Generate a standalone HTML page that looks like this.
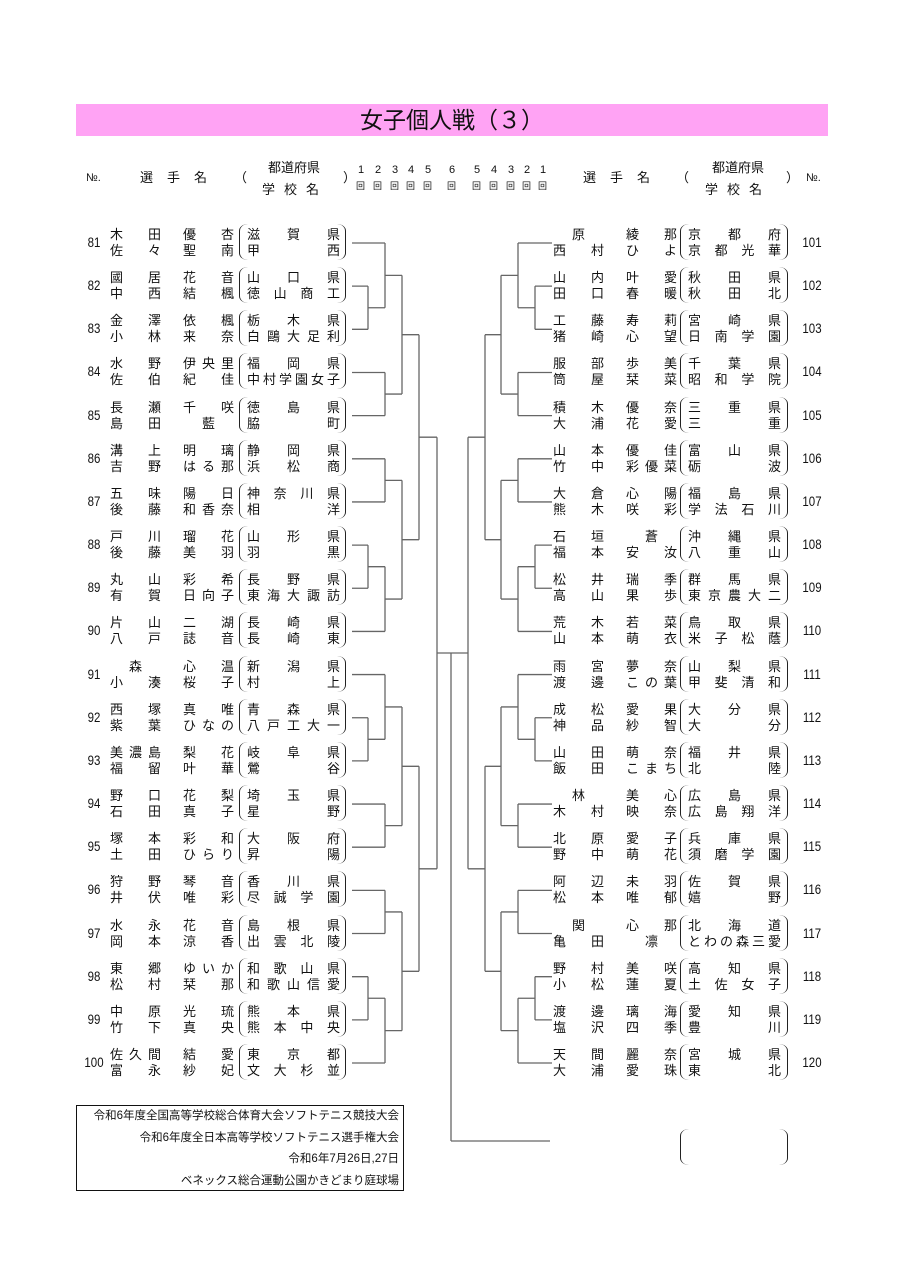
<!DOCTYPE html>
<html><head><meta charset="utf-8">
<style>
body{margin:0;background:#fff;}
#p{position:relative;width:905px;height:1280px;overflow:hidden;font-family:"Liberation Sans","Noto Sans CJK JP",sans-serif;color:#111;}
.t{position:absolute;left:76px;top:104px;width:752px;height:32px;background:#ffa3f4;text-align:center;font-size:23px;line-height:32px;}
.h{position:absolute;font-size:13px;line-height:16px;white-space:nowrap;}
.r{position:absolute;left:0;width:905px;height:40px;}
.r div{position:absolute;font-size:13px;line-height:16px;white-space:nowrap;}
.num{top:12px;width:28px;text-align:center;font-size:13.5px!important;transform:scaleX(.85);}
.nm{width:124px;height:16px;}
.nm span{position:absolute;top:0;width:51px;text-align:justify;text-align-last:justify;}
.nm span.g{left:73px;}
.nm span.s{left:0;}
.nm span.c{text-align:center;text-align-last:center;}
.sc{width:93px;text-align:justify;text-align-last:justify;}
.pl{top:1px;width:8px;height:36px;border-left:1.3px solid #222;border-radius:9px 0 0 9px/7px 0 0 7px;}
.pr{top:1px;width:8px;height:36px;border-right:1.3px solid #222;border-radius:0 9px 9px 0/0 7px 7px 0;}
.L .num{left:80px}.L .nm{left:110px}.L .sc{left:247px}.L .pl{left:239px}.L .pr{left:337px}
.R .num{left:798px}.R .nm{left:553px}.R .sc{left:688px}.R .pl{left:680px}.R .pr{left:779px}
.a{top:4px}.b{top:20px}
.f{position:absolute;left:76px;top:1105px;width:326px;height:84px;border:1.5px solid #111;font-size:11.5px;}
.f div{text-align:right;padding-right:4px;line-height:21.5px;}
</style></head><body><div id="p">
<div class="t">女子個人戦（３）</div>
<div class="h" style="left:86px;top:170px;font-size:11px">№.</div>
<div class="h" style="left:140px;top:170px;letter-spacing:14px">選手名</div>
<div class="h" style="left:234px;top:170px">（</div>
<div class="h" style="left:268px;top:160px">都道府県</div>
<div class="h" style="left:262px;top:182px;letter-spacing:9px">学校名</div>
<div class="h" style="left:343px;top:170px">）</div>
<div class="h" style="left:355px;top:162px;font-size:11px;letter-spacing:0">
<span style="position:absolute;left:3px">1</span><span style="position:absolute;left:20px">2</span><span style="position:absolute;left:37px">3</span><span style="position:absolute;left:53px">4</span><span style="position:absolute;left:70px">5</span><span style="position:absolute;left:94px">6</span><span style="position:absolute;left:119px">5</span><span style="position:absolute;left:136px">4</span><span style="position:absolute;left:153px">3</span><span style="position:absolute;left:169px">2</span><span style="position:absolute;left:185px">1</span></div>
<div class="h" style="left:355px;top:178px;font-size:9px">
<span style="position:absolute;left:1px">回</span><span style="position:absolute;left:18px">回</span><span style="position:absolute;left:35px">回</span><span style="position:absolute;left:51px">回</span><span style="position:absolute;left:68px">回</span><span style="position:absolute;left:92px">回</span><span style="position:absolute;left:117px">回</span><span style="position:absolute;left:134px">回</span><span style="position:absolute;left:151px">回</span><span style="position:absolute;left:167px">回</span><span style="position:absolute;left:183px">回</span></div>
<div class="h" style="left:583px;top:170px;letter-spacing:14px">選手名</div>
<div class="h" style="left:676px;top:170px">（</div>
<div class="h" style="left:712px;top:160px">都道府県</div>
<div class="h" style="left:705px;top:182px;letter-spacing:9px">学校名</div>
<div class="h" style="left:786px;top:170px">）</div>
<div class="h" style="left:806px;top:170px;font-size:11px">№.</div>

<div class="r L" style="top:223px"><div class="num">81</div><div class="nm a"><span class="s">木田</span><span class="g">優杏</span></div><div class="nm b"><span class="s">佐々</span><span class="g">聖南</span></div><div class="pl"></div><div class="pr"></div><div class="sc a">滋賀県</div><div class="sc b">甲西</div></div>
<div class="r L" style="top:266px"><div class="num">82</div><div class="nm a"><span class="s">國居</span><span class="g">花音</span></div><div class="nm b"><span class="s">中西</span><span class="g">結楓</span></div><div class="pl"></div><div class="pr"></div><div class="sc a">山口県</div><div class="sc b">徳山商工</div></div>
<div class="r L" style="top:309px"><div class="num">83</div><div class="nm a"><span class="s">金澤</span><span class="g">依楓</span></div><div class="nm b"><span class="s">小林</span><span class="g">来奈</span></div><div class="pl"></div><div class="pr"></div><div class="sc a">栃木県</div><div class="sc b">白鷗大足利</div></div>
<div class="r L" style="top:352px"><div class="num">84</div><div class="nm a"><span class="s">水野</span><span class="g">伊央里</span></div><div class="nm b"><span class="s">佐伯</span><span class="g">紀佳</span></div><div class="pl"></div><div class="pr"></div><div class="sc a">福岡県</div><div class="sc b">中村学園女子</div></div>
<div class="r L" style="top:396px"><div class="num">85</div><div class="nm a"><span class="s">長瀬</span><span class="g">千咲</span></div><div class="nm b"><span class="s">島田</span><span class="g c">藍</span></div><div class="pl"></div><div class="pr"></div><div class="sc a">徳島県</div><div class="sc b">脇町</div></div>
<div class="r L" style="top:439px"><div class="num">86</div><div class="nm a"><span class="s">溝上</span><span class="g">明璃</span></div><div class="nm b"><span class="s">吉野</span><span class="g">はる那</span></div><div class="pl"></div><div class="pr"></div><div class="sc a">静岡県</div><div class="sc b">浜松商</div></div>
<div class="r L" style="top:482px"><div class="num">87</div><div class="nm a"><span class="s">五味</span><span class="g">陽日</span></div><div class="nm b"><span class="s">後藤</span><span class="g">和香奈</span></div><div class="pl"></div><div class="pr"></div><div class="sc a">神奈川県</div><div class="sc b">相洋</div></div>
<div class="r L" style="top:525px"><div class="num">88</div><div class="nm a"><span class="s">戸川</span><span class="g">瑠花</span></div><div class="nm b"><span class="s">後藤</span><span class="g">美羽</span></div><div class="pl"></div><div class="pr"></div><div class="sc a">山形県</div><div class="sc b">羽黒</div></div>
<div class="r L" style="top:568px"><div class="num">89</div><div class="nm a"><span class="s">丸山</span><span class="g">彩希</span></div><div class="nm b"><span class="s">有賀</span><span class="g">日向子</span></div><div class="pl"></div><div class="pr"></div><div class="sc a">長野県</div><div class="sc b">東海大諏訪</div></div>
<div class="r L" style="top:611px"><div class="num">90</div><div class="nm a"><span class="s">片山</span><span class="g">二湖</span></div><div class="nm b"><span class="s">八戸</span><span class="g">誌音</span></div><div class="pl"></div><div class="pr"></div><div class="sc a">長崎県</div><div class="sc b">長崎東</div></div>
<div class="r L" style="top:655px"><div class="num">91</div><div class="nm a"><span class="s c">森</span><span class="g">心温</span></div><div class="nm b"><span class="s">小湊</span><span class="g">桜子</span></div><div class="pl"></div><div class="pr"></div><div class="sc a">新潟県</div><div class="sc b">村上</div></div>
<div class="r L" style="top:698px"><div class="num">92</div><div class="nm a"><span class="s">西塚</span><span class="g">真唯</span></div><div class="nm b"><span class="s">紫葉</span><span class="g">ひなの</span></div><div class="pl"></div><div class="pr"></div><div class="sc a">青森県</div><div class="sc b">八戸工大一</div></div>
<div class="r L" style="top:741px"><div class="num">93</div><div class="nm a"><span class="s">美濃島</span><span class="g">梨花</span></div><div class="nm b"><span class="s">福留</span><span class="g">叶華</span></div><div class="pl"></div><div class="pr"></div><div class="sc a">岐阜県</div><div class="sc b">鶯谷</div></div>
<div class="r L" style="top:784px"><div class="num">94</div><div class="nm a"><span class="s">野口</span><span class="g">花梨</span></div><div class="nm b"><span class="s">石田</span><span class="g">真子</span></div><div class="pl"></div><div class="pr"></div><div class="sc a">埼玉県</div><div class="sc b">星野</div></div>
<div class="r L" style="top:827px"><div class="num">95</div><div class="nm a"><span class="s">塚本</span><span class="g">彩和</span></div><div class="nm b"><span class="s">土田</span><span class="g">ひらり</span></div><div class="pl"></div><div class="pr"></div><div class="sc a">大阪府</div><div class="sc b">昇陽</div></div>
<div class="r L" style="top:870px"><div class="num">96</div><div class="nm a"><span class="s">狩野</span><span class="g">琴音</span></div><div class="nm b"><span class="s">井伏</span><span class="g">唯彩</span></div><div class="pl"></div><div class="pr"></div><div class="sc a">香川県</div><div class="sc b">尽誠学園</div></div>
<div class="r L" style="top:914px"><div class="num">97</div><div class="nm a"><span class="s">水永</span><span class="g">花音</span></div><div class="nm b"><span class="s">岡本</span><span class="g">涼香</span></div><div class="pl"></div><div class="pr"></div><div class="sc a">島根県</div><div class="sc b">出雲北陵</div></div>
<div class="r L" style="top:957px"><div class="num">98</div><div class="nm a"><span class="s">東郷</span><span class="g">ゆいか</span></div><div class="nm b"><span class="s">松村</span><span class="g">栞那</span></div><div class="pl"></div><div class="pr"></div><div class="sc a">和歌山県</div><div class="sc b">和歌山信愛</div></div>
<div class="r L" style="top:1000px"><div class="num">99</div><div class="nm a"><span class="s">中原</span><span class="g">光琉</span></div><div class="nm b"><span class="s">竹下</span><span class="g">真央</span></div><div class="pl"></div><div class="pr"></div><div class="sc a">熊本県</div><div class="sc b">熊本中央</div></div>
<div class="r L" style="top:1043px"><div class="num">100</div><div class="nm a"><span class="s">佐久間</span><span class="g">結愛</span></div><div class="nm b"><span class="s">富永</span><span class="g">紗妃</span></div><div class="pl"></div><div class="pr"></div><div class="sc a">東京都</div><div class="sc b">文大杉並</div></div>

<div class="r R" style="top:223px"><div class="num">101</div><div class="nm a"><span class="s c">原</span><span class="g">綾那</span></div><div class="nm b"><span class="s">西村</span><span class="g">ひよ</span></div><div class="pl"></div><div class="pr"></div><div class="sc a">京都府</div><div class="sc b">京都光華</div></div>
<div class="r R" style="top:266px"><div class="num">102</div><div class="nm a"><span class="s">山内</span><span class="g">叶愛</span></div><div class="nm b"><span class="s">田口</span><span class="g">春暖</span></div><div class="pl"></div><div class="pr"></div><div class="sc a">秋田県</div><div class="sc b">秋田北</div></div>
<div class="r R" style="top:309px"><div class="num">103</div><div class="nm a"><span class="s">工藤</span><span class="g">寿莉</span></div><div class="nm b"><span class="s">猪崎</span><span class="g">心望</span></div><div class="pl"></div><div class="pr"></div><div class="sc a">宮崎県</div><div class="sc b">日南学園</div></div>
<div class="r R" style="top:352px"><div class="num">104</div><div class="nm a"><span class="s">服部</span><span class="g">歩美</span></div><div class="nm b"><span class="s">筒屋</span><span class="g">栞菜</span></div><div class="pl"></div><div class="pr"></div><div class="sc a">千葉県</div><div class="sc b">昭和学院</div></div>
<div class="r R" style="top:396px"><div class="num">105</div><div class="nm a"><span class="s">積木</span><span class="g">優奈</span></div><div class="nm b"><span class="s">大浦</span><span class="g">花愛</span></div><div class="pl"></div><div class="pr"></div><div class="sc a">三重県</div><div class="sc b">三重</div></div>
<div class="r R" style="top:439px"><div class="num">106</div><div class="nm a"><span class="s">山本</span><span class="g">優佳</span></div><div class="nm b"><span class="s">竹中</span><span class="g">彩優菜</span></div><div class="pl"></div><div class="pr"></div><div class="sc a">富山県</div><div class="sc b">砺波</div></div>
<div class="r R" style="top:482px"><div class="num">107</div><div class="nm a"><span class="s">大倉</span><span class="g">心陽</span></div><div class="nm b"><span class="s">熊木</span><span class="g">咲彩</span></div><div class="pl"></div><div class="pr"></div><div class="sc a">福島県</div><div class="sc b">学法石川</div></div>
<div class="r R" style="top:525px"><div class="num">108</div><div class="nm a"><span class="s">石垣</span><span class="g c">蒼</span></div><div class="nm b"><span class="s">福本</span><span class="g">安汝</span></div><div class="pl"></div><div class="pr"></div><div class="sc a">沖縄県</div><div class="sc b">八重山</div></div>
<div class="r R" style="top:568px"><div class="num">109</div><div class="nm a"><span class="s">松井</span><span class="g">瑞季</span></div><div class="nm b"><span class="s">高山</span><span class="g">果歩</span></div><div class="pl"></div><div class="pr"></div><div class="sc a">群馬県</div><div class="sc b">東京農大二</div></div>
<div class="r R" style="top:611px"><div class="num">110</div><div class="nm a"><span class="s">荒木</span><span class="g">若菜</span></div><div class="nm b"><span class="s">山本</span><span class="g">萌衣</span></div><div class="pl"></div><div class="pr"></div><div class="sc a">鳥取県</div><div class="sc b">米子松蔭</div></div>
<div class="r R" style="top:655px"><div class="num">111</div><div class="nm a"><span class="s">雨宮</span><span class="g">夢奈</span></div><div class="nm b"><span class="s">渡邊</span><span class="g">この葉</span></div><div class="pl"></div><div class="pr"></div><div class="sc a">山梨県</div><div class="sc b">甲斐清和</div></div>
<div class="r R" style="top:698px"><div class="num">112</div><div class="nm a"><span class="s">成松</span><span class="g">愛果</span></div><div class="nm b"><span class="s">神品</span><span class="g">紗智</span></div><div class="pl"></div><div class="pr"></div><div class="sc a">大分県</div><div class="sc b">大分</div></div>
<div class="r R" style="top:741px"><div class="num">113</div><div class="nm a"><span class="s">山田</span><span class="g">萌奈</span></div><div class="nm b"><span class="s">飯田</span><span class="g">こまち</span></div><div class="pl"></div><div class="pr"></div><div class="sc a">福井県</div><div class="sc b">北陸</div></div>
<div class="r R" style="top:784px"><div class="num">114</div><div class="nm a"><span class="s c">林</span><span class="g">美心</span></div><div class="nm b"><span class="s">木村</span><span class="g">映奈</span></div><div class="pl"></div><div class="pr"></div><div class="sc a">広島県</div><div class="sc b">広島翔洋</div></div>
<div class="r R" style="top:827px"><div class="num">115</div><div class="nm a"><span class="s">北原</span><span class="g">愛子</span></div><div class="nm b"><span class="s">野中</span><span class="g">萌花</span></div><div class="pl"></div><div class="pr"></div><div class="sc a">兵庫県</div><div class="sc b">須磨学園</div></div>
<div class="r R" style="top:870px"><div class="num">116</div><div class="nm a"><span class="s">阿辺</span><span class="g">未羽</span></div><div class="nm b"><span class="s">松本</span><span class="g">唯郁</span></div><div class="pl"></div><div class="pr"></div><div class="sc a">佐賀県</div><div class="sc b">嬉野</div></div>
<div class="r R" style="top:914px"><div class="num">117</div><div class="nm a"><span class="s c">関</span><span class="g">心那</span></div><div class="nm b"><span class="s">亀田</span><span class="g c">凛</span></div><div class="pl"></div><div class="pr"></div><div class="sc a">北海道</div><div class="sc b">とわの森三愛</div></div>
<div class="r R" style="top:957px"><div class="num">118</div><div class="nm a"><span class="s">野村</span><span class="g">美咲</span></div><div class="nm b"><span class="s">小松</span><span class="g">蓮夏</span></div><div class="pl"></div><div class="pr"></div><div class="sc a">高知県</div><div class="sc b">土佐女子</div></div>
<div class="r R" style="top:1000px"><div class="num">119</div><div class="nm a"><span class="s">渡邊</span><span class="g">璃海</span></div><div class="nm b"><span class="s">塩沢</span><span class="g">四季</span></div><div class="pl"></div><div class="pr"></div><div class="sc a">愛知県</div><div class="sc b">豊川</div></div>
<div class="r R" style="top:1043px"><div class="num">120</div><div class="nm a"><span class="s">天間</span><span class="g">麗奈</span></div><div class="nm b"><span class="s">大浦</span><span class="g">愛珠</span></div><div class="pl"></div><div class="pr"></div><div class="sc a">宮城県</div><div class="sc b">東北</div></div>

<div class="r R" style="top:1128px"><div class="pl"></div><div class="pr"></div></div>

<svg id="s" width="905" height="1280" style="position:absolute;left:0;top:0" fill="none" stroke="#666" stroke-width="1.3"></svg>

<div class="f">
<div>令和6年度全国高等学校総合体育大会ソフトテニス競技大会</div>
<div>令和6年度全日本高等学校ソフトテニス選手権大会</div>
<div>令和6年7月26日,27日</div>
<div>ベネックス総合運動公園かきどまり庭球場</div>
</div>
</div>
<script>
var s=document.getElementById('s'),d='';
function Y(i){return 243+i*43.158;}
function line(x1,y1,x2,y2){d+='M'+x1+' '+y1+'L'+x2+' '+y2;}
function e(i,x){return {y:Y(i),x:x};}
function m(a,b,X){line(a.x,a.y,X,a.y);line(b.x,b.y,X,b.y);line(X,a.y,X,b.y);return {y:(a.y+b.y)/2,x:X};}
function side(ex,L){
 function blk(k){
  var A=m(e(k,ex),m(e(k+1,ex),e(k+2,ex),L[0]),L[1]);
  var B=m(e(k+3,ex),e(k+4,ex),L[1]);
  var C=m(A,B,L[2]);
  var D=m(e(k+5,ex),e(k+6,ex),L[1]);
  var E=m(m(e(k+7,ex),e(k+8,ex),L[0]),e(k+9,ex),L[1]);
  var F=m(D,E,L[2]);
  return m(C,F,L[3]);
 }
 var g1=blk(0),g2=blk(10);
 line(g1.x,g1.y,L[4],g1.y);line(g2.x,g2.y,L[4],g2.y);line(L[4],g1.y,L[4],g2.y);
 return (g1.y+g2.y)/2;
}
var c=side(352,[368,385,402,419,437]);
side(552,[535,518,501,485,468]);
line(437,c,468,c);line(451,c,451,1141);line(451,1141,550,1141);
var p=document.createElementNS('http://www.w3.org/2000/svg','path');p.setAttribute('d',d);s.appendChild(p);
</script>
</body></html>
